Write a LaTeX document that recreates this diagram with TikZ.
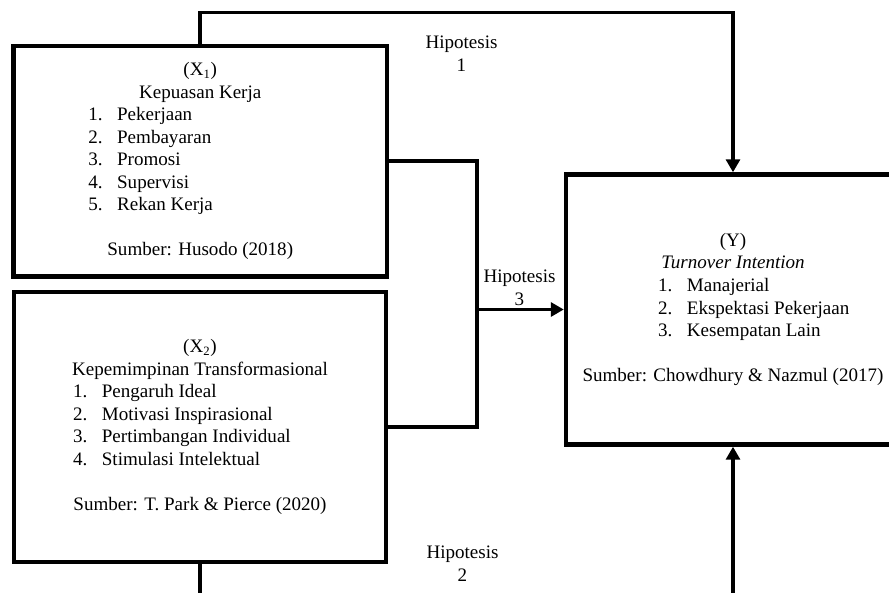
\documentclass[tikz,border=0pt]{standalone}
\usepackage{fontspec}
\setmainfont{Liberation Serif}
\usepackage{tikz}
\usetikzlibrary{calc,arrows.meta}

% one numbered line of a list, inside a block of width #1
\newcommand{\butir}[3]{\makebox[#1][l]{\makebox[18.2pt][l]{#2.}#3}}

\begin{document}
\begin{tikzpicture}[x=0.63pt, y=-0.63pt]

                % Styles for the variable boxes and the hypothesis lines
                \tikzset{
                    varbox/.style={draw, rectangle, line width=2.8pt, inner sep=0pt,
                        align=center, font=\fontsize{12}{14.2}\selectfont},
                    link/.style={line width=2.5pt},
                    linkarrow/.style={line width=2.5pt, -{Triangle[length=8.2pt, width=8.8pt]}},
                    hipo/.style={align=center, font=\fontsize{12}{14.5}\selectfont}
                }

                % Page size of the figure
                \useasboundingbox (0, 0) rectangle (889, 592);

                % Points where the hypothesis lines turn
                \begin{scope}
                    \coordinate (atas) at (0, 12.5);
                    \coordinate (bawah) at (0, 615);
                    \coordinate (gabung) at (477, 309.5);
                \end{scope}

                % The three variable boxes
                \begin{scope}
                    \node (X1) at (200.25, 161.25) [varbox, minimum width=235.3pt, minimum height=145.2pt]
                        {(X\textsubscript{1})\\
                         Kepuasan Kerja\\
                         \butir{141.1pt}{1}{Pekerjaan}\\
                         \butir{141.1pt}{2}{Pembayaran}\\
                         \butir{141.1pt}{3}{Promosi}\\
                         \butir{141.1pt}{4}{Supervisi}\\
                         \butir{141.1pt}{5}{Rekan Kerja}\\[14.2pt]
                         Sumber: Husodo (2018)};
                    \node (X2) at (200, 427) [varbox, minimum width=234.7pt, minimum height=170.1pt]
                        {(X\textsubscript{2})\\
                         Kepemimpinan Transformasional\\
                         \butir{160pt}{1}{Pengaruh Ideal}\\
                         \butir{160pt}{2}{Motivasi Inspirasional}\\
                         \butir{160pt}{3}{Pertimbangan Individual}\\
                         \butir{160pt}{4}{Stimulasi Intelektual}\\[14.2pt]
                         Sumber: T. Park \& Pierce (2020)};
                    \node (Y) at (733, 309.5) [varbox, minimum width=210.4pt, minimum height=170.1pt]
                        {(Y)\\
                         \textit{Turnover Intention}\\
                         \butir{94.5pt}{1}{Manajerial}\\
                         \butir{94.5pt}{2}{Ekspektasi Pekerjaan}\\
                         \butir{94.5pt}{3}{Kesempatan Lain}\\[14.2pt]
                         Sumber: Chowdhury \& Nazmul (2017)};
                \end{scope}

                % Hypothesis lines
                \begin{scope}
                    \draw[linkarrow] (X1.north) -- (X1.north |- atas) -| (Y.north);
                    \draw[linkarrow] (X2.south) -- (X2.south |- bawah) -| (Y.south);
                    \draw[link] (X1.east) -| (gabung) |- (X2.east);
                    \draw[linkarrow] (gabung) -- (Y.west);
                \end{scope}

                % Hypothesis labels
                \begin{scope}
                    \node (h1) at (461.5, 54) [hipo] {Hipotesis\\1};
                    \node (h3) at (519.5, 287.5) [hipo] {Hipotesis\\3};
                    \node (h2) at (462.5, 563.5) [hipo] {Hipotesis\\2};
                \end{scope}

\end{tikzpicture}
\end{document}
